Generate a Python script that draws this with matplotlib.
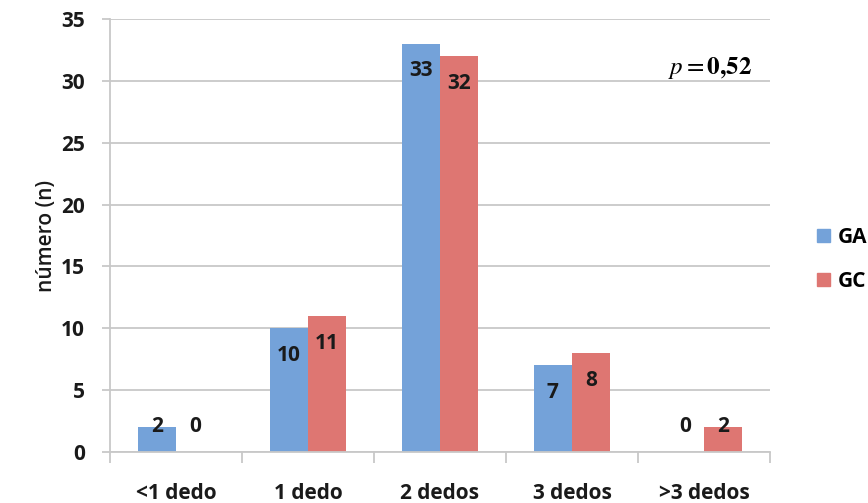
import matplotlib
matplotlib.use("Agg")
import matplotlib.pyplot as plt
import numpy as np
from matplotlib.patches import Patch

categories = ["<1 dedo", "1 dedo", "2 dedos", "3 dedos", ">3 dedos"]
ga = [2, 10, 33, 7, 0]
gc = [0, 11, 32, 8, 2]
series = ["GA", "GC"]
yticks = [0, 5, 10, 15, 20, 25, 30, 35]

blue = "#74A2D9"
red = "#DE7672"
grid_col = "#C8C8C8"
font = "Open Sans"
fsize = 15
plt.rcParams["mathtext.fontset"] = "stix"

fig = plt.figure(figsize=(8.68, 5.03), dpi=100)
ax = fig.add_axes([0.1267, 0.1014, 0.7604, 0.8608])

x = np.arange(len(categories))
w = 0.29
ax.bar(x - w / 2, ga, width=w, color=blue, zorder=2)
ax.bar(x + w / 2, gc, width=w, color=red, zorder=2)

# value labels sit just inside the top of each bar
for xs, vals in ((x - w / 2, ga), (x + w / 2, gc)):
    for xi, v in zip(xs, vals):
        y = v - 2.2 if v > 4 else 2.1
        ax.text(xi, y, str(v), ha="center", va="center", fontsize=fsize,
                fontweight="bold", family=font, color="#1a1a1a", zorder=3)

ax.set_xlim(-0.5, len(categories) - 0.5)
ax.set_ylim(0, 35)
ax.set_yticks(yticks)
ax.yaxis.grid(True, color=grid_col, linewidth=1.3, zorder=0)
ax.set_axisbelow(True)

for s in ("top", "right"):
    ax.spines[s].set_visible(False)
for s in ("left", "bottom"):
    ax.spines[s].set_color(grid_col)
    ax.spines[s].set_linewidth(1.3)

# category boundaries carry the x ticks, names go on minor ticks
ax.set_xticks(np.arange(len(categories) + 1) - 0.5)
ax.set_xticklabels([])
ax.set_xticks(x, minor=True)
ax.set_xticklabels(categories, minor=True)
ax.tick_params(axis="x", which="major", length=8, color=grid_col, width=1.3)
ax.tick_params(axis="x", which="minor", length=0, pad=22)
ax.tick_params(axis="y", length=6, color=grid_col, width=1.3, pad=12)

for lab in ax.get_xticklabels(minor=True) + ax.get_yticklabels():
    lab.set_fontsize(fsize)
    lab.set_fontweight("bold")
    lab.set_family(font)
    lab.set_color("#1a1a1a")

ax.set_ylabel("número (n)", fontsize=fsize, family=font, fontweight="semibold",
              color="#1a1a1a", labelpad=3)

ax.text(0.972, 0.888, r"$p = \mathbf{0{,}52}$", transform=ax.transAxes, ha="right",
        va="center", fontsize=18)

handles = [Patch(color=blue, label=series[0]), Patch(color=red, label=series[1])]
leg = fig.legend(handles=handles, loc="center left", bbox_to_anchor=(0.92, 0.485),
                 frameon=False, handlelength=0.6, handleheight=0.6, handletextpad=0.4,
                 labelspacing=1.1, prop={"family": font, "weight": "bold", "size": fsize})

fig.savefig("out.png", dpi=100)
